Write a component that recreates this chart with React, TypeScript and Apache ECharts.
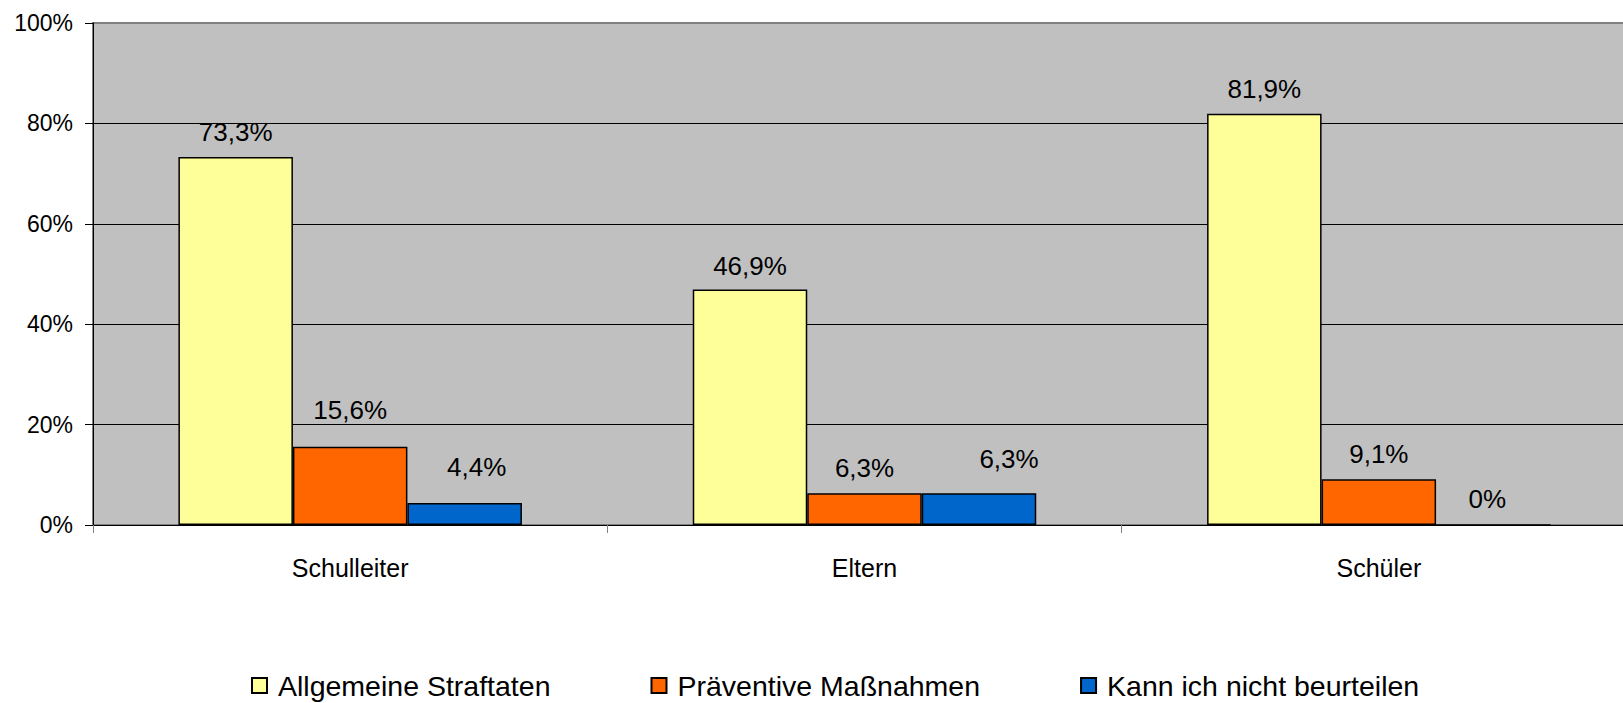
import React, { useEffect, useRef } from "react";
import * as echarts from "echarts";

const categories = ["Schulleiter", "Eltern", "Schüler"];
const seriesNames = ["Allgemeine Straftaten", "Präventive Maßnahmen", "Kann ich nicht beurteilen"];
const allgemeine = [73.3, 46.9, 81.9];
const praeventiv = [15.6, 6.3, 9.1];
const kannNicht = [4.4, 6.3, 0];
const yTicks = [0, 20, 40, 60, 80, 100];

const seriesColors = ["#FFFF99", "#FF6600", "#0066CC"];
// small per-label nudges (as in the original, labels were moved by hand)
const labelShift: number[][][] = [
  [[0, 0], [0, 1], [0, 0]],
  [[0, -12], [0, 0], [0, 0]],
  [[12, -11], [30, -9], [-6, 0]],
];

const FONT = "'Liberation Sans', Arial, sans-serif";

function fmt(v: number) {
  if (v === 0) return "0%";
  return v.toFixed(1).replace(".", ",") + "%";
}

export default function App() {
  const ref = useRef<HTMLDivElement>(null);
  useEffect(() => {
    if (!ref.current) return;
    const chart = echarts.init(ref.current, undefined, { renderer: "svg" });
    const values = [allgemeine, praeventiv, kannNicht];
    const option: any = {
      animation: false,
      backgroundColor: "#ffffff",
      textStyle: { fontFamily: FONT, color: "#000" },
      grid: {
        left: 93,
        top: 23,
        width: 1543,
        height: 502,
        show: true,
        backgroundColor: "#C0C0C0",
        borderColor: "#808080",
        borderWidth: 2,
      },
      legend: {
        left: 246,
        top: 666,
        itemWidth: 15,
        itemHeight: 15,
        itemGap: 100,
        icon: "rect",
        textStyle: { fontFamily: FONT, fontSize: 28.5, color: "#000", padding: [0, 0, 0, 6] },
        data: seriesNames,
      },
      xAxis: {
        type: "category",
        data: categories,
        boundaryGap: true,
        axisLine: { show: true, lineStyle: { color: "#000", width: 1 } },
        axisTick: { show: true, length: 8, inside: false, lineStyle: { color: "#808080" } },
        axisLabel: { fontFamily: FONT, fontSize: 25, color: "#000", margin: 30 },
        splitLine: { show: false },
      },
      yAxis: {
        type: "value",
        min: 0,
        max: 100,
        interval: 20,
        axisLine: { show: true, lineStyle: { color: "#000", width: 1 } },
        axisTick: { show: true, length: 8, lineStyle: { color: "#000" } },
        axisLabel: {
          fontFamily: FONT,
          fontSize: 23,
          color: "#000",
          margin: 20,
          formatter: (v: number) => v + "%",
        },
        splitLine: {
          show: true,
          lineStyle: {
            color: yTicks.map((t) => (t === 100 ? "#808080" : "#000")),
            width: 1,
          },
        },
      },
      series: seriesNames.map((name, s) => ({
        name,
        type: "bar",
        barWidth: 114.5,
        barGap: "0%",
        itemStyle: { color: seriesColors[s], borderColor: "#000", borderWidth: 1.5 },
        label: {
          show: true,
          position: "top",
          distance: 12,
          fontFamily: FONT,
          fontSize: 26,
          color: "#000",
          formatter: (p: any) => fmt(p.value),
        },
        data: values[s].map((v, i) => ({
          value: v,
          label: { offset: labelShift[s][i] },
        })),
      })),
    };
    chart.setOption(option);
    return () => chart.dispose();
  }, []);
  return (
    <div style={{ position: "fixed", left: 0, top: 0, width: 1623, height: 703, overflow: "hidden" }}>
      <div ref={ref} style={{ position: "absolute", left: 0, top: 0, width: 1660, height: 703 }} />
    </div>
  );
}
